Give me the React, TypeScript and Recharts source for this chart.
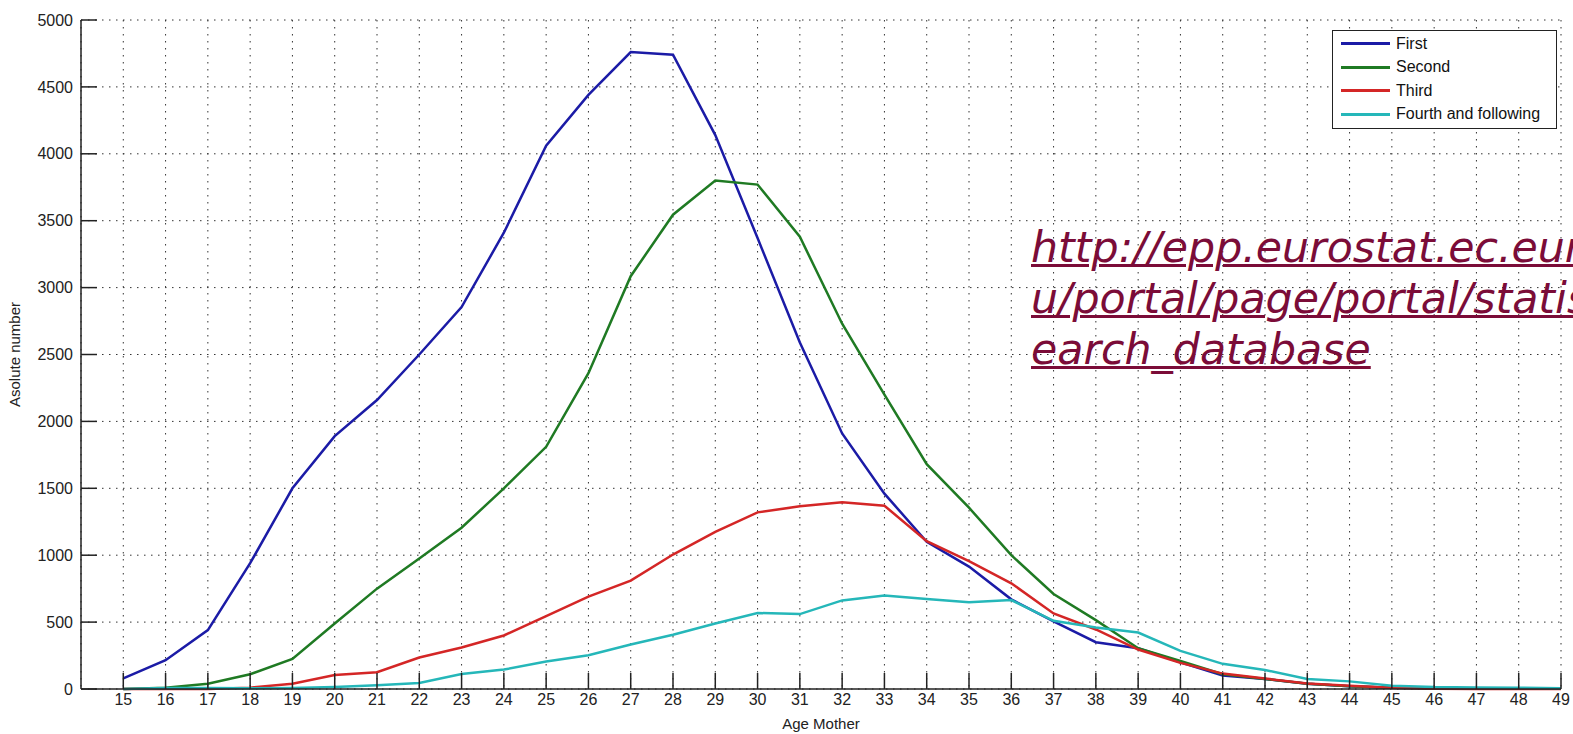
import React from 'react';
import { LineChart, Line, XAxis, YAxis, CartesianGrid, Legend } from 'recharts';

// Age of mother (years)
const ages = [
  15, 16, 17, 18, 19, 20, 21, 22, 23, 24, 25, 26, 27, 28, 29, 30, 31, 32,
  33, 34, 35, 36, 37, 38, 39, 40, 41, 42, 43, 44, 45, 46, 47, 48, 49,
];

// Births by birth order, absolute numbers per age
const firstBirths = [
  80, 215, 440, 940, 1500, 1890, 2160, 2500, 2855, 3410, 4060, 4440, 4760, 4740,
  4140, 3370, 2590, 1910, 1460, 1100, 915, 670, 505, 350, 305, 200, 100, 75, 40,
  20, 10, 5, 3, 2, 1,
];
const secondBirths = [
  0, 10, 40, 110, 225, 490, 750, 975, 1205, 1500, 1810, 2360, 3085, 3545, 3800,
  3770, 3380, 2730, 2200, 1680, 1355, 1000, 710, 515, 305, 210, 110, 75, 40, 20,
  10, 5, 3, 2, 1,
];
const thirdBirths = [
  0, 0, 0, 10, 40, 105, 125, 235, 310, 400, 545, 690, 810, 1005, 1175, 1320,
  1365, 1395, 1370, 1105, 955, 790, 565, 445, 295, 195, 115, 78, 42, 25, 10, 2,
  0, 0, 0,
];
const fourthPlusBirths = [
  0, 8, 8, 5, 8, 15, 28, 45, 112, 145, 205, 252, 332, 405, 490, 568, 560, 662,
  698, 672, 648, 665, 510, 460, 422, 285, 188, 142, 75, 57, 25, 15, 12, 10, 5,
];

const yTicks = [0, 500, 1000, 1500, 2000, 2500, 3000, 3500, 4000, 4500, 5000];

const seriesKeys = ['first', 'second', 'third', 'fourth'];
const seriesNames = ['First', 'Second', 'Third', 'Fourth and following'];
const seriesColors = ['#1b1ba6', '#1f7a23', '#d42626', '#25b7b9'];

const chartData = ages.map((age, i) => ({
  age,
  first: firstBirths[i],
  second: secondBirths[i],
  third: thirdBirths[i],
  fourth: fourthPlusBirths[i],
}));

const axisColor = '#222';
const tickStyle = { fill: '#222', fontSize: 16 };

function BoxLegend({ payload }: any) {
  // keep birth order rather than alphabetical
  const items = [...(payload || [])].sort(
    (a: any, b: any) => seriesNames.indexOf(a.value) - seriesNames.indexOf(b.value)
  );
  return (
    <div
      style={{
        width: 223,
        height: 96,
        border: '1px solid #222',
        background: '#fff',
        paddingTop: 1,
        fontSize: 16,
        color: '#111',
      }}
    >
      {items.map((entry: any) => (
        <div key={entry.value} style={{ display: 'flex', alignItems: 'center', height: 23.5 }}>
          <span style={{ display: 'inline-block', width: 49, height: 3, marginLeft: 8, background: entry.color }} />
          <span style={{ marginLeft: 6, lineHeight: '18px' }}>{entry.value}</span>
        </div>
      ))}
    </div>
  );
}

export default function App() {
  return (
    <div
      style={{
        position: 'absolute',
        left: 0,
        top: 0,
        width: 1573,
        height: 734,
        overflow: 'hidden',
        background: '#fff',
        fontFamily: '"Liberation Sans", Arial, sans-serif',
      }}
    >
      <LineChart width={1573} height={734} data={chartData} margin={{ top: 20, right: 12, bottom: 0, left: 0 }}>
        <CartesianGrid stroke="#333" strokeDasharray="1.5 5.5" />
        <XAxis
          dataKey="age"
          type="number"
          domain={[14, 49]}
          ticks={ages}
          interval={0}
          height={45}
          tickSize={-16}
          tickMargin={21}
          tick={tickStyle}
          axisLine={{ stroke: axisColor, strokeWidth: 1.5 }}
          tickLine={{ stroke: axisColor, strokeWidth: 1.5 }}
          label={{ value: 'Age Mother', position: 'insideBottom', offset: 5, fill: '#222', fontSize: 15 }}
        />
        <XAxis
          xAxisId="top"
          orientation="top"
          dataKey="age"
          type="number"
          domain={[14, 49]}
          ticks={ages}
          interval={0}
          height={0}
          tickSize={-16}
          tick={false}
          axisLine={{ stroke: axisColor, strokeWidth: 1.5 }}
          tickLine={{ stroke: axisColor, strokeWidth: 1.5 }}
        />
        <YAxis
          type="number"
          domain={[0, 5000]}
          ticks={yTicks}
          interval={0}
          width={81}
          tickSize={-16}
          tickMargin={24}
          tick={tickStyle}
          axisLine={{ stroke: axisColor, strokeWidth: 1.5 }}
          tickLine={{ stroke: axisColor, strokeWidth: 1.5 }}
          label={{
            value: 'Asolute number',
            angle: -90,
            position: 'insideLeft',
            offset: 15,
            fill: '#222',
            fontSize: 15,
            style: { textAnchor: 'middle' },
          }}
        />
        <YAxis
          yAxisId="right"
          orientation="right"
          type="number"
          domain={[0, 5000]}
          ticks={yTicks}
          interval={0}
          width={0}
          tickSize={-16}
          tick={false}
          axisLine={{ stroke: axisColor, strokeWidth: 1.5 }}
          tickLine={{ stroke: axisColor, strokeWidth: 1.5 }}
        />
        {seriesKeys.map((key, i) => (
          <Line
            key={key}
            type="linear"
            dataKey={key}
            name={seriesNames[i]}
            stroke={seriesColors[i]}
            strokeWidth={2.5}
            dot={false}
            isAnimationActive={false}
          />
        ))}
        <Legend
          layout="vertical"
          align="center"
          verticalAlign="middle"
          content={<BoxLegend />}
          wrapperStyle={{ left: 1332, top: 30, width: 'auto', height: 'auto' }}
        />
      </LineChart>

      {/* source link annotation */}
      <div
        style={{
          position: 'absolute',
          left: 1031,
          top: 222,
          fontFamily: '"DejaVu Sans", Verdana, sans-serif',
          fontStyle: 'italic',
          fontSize: 42.7,
          lineHeight: '51px',
          color: '#7b0c38',
          textDecoration: 'underline',
          textDecorationThickness: 3,
          whiteSpace: 'pre',
        }}
      >
        {'http://epp.eurostat.ec.europa.e\nu/portal/page/portal/statistics/s\nearch_database'}
      </div>
    </div>
  );
}
